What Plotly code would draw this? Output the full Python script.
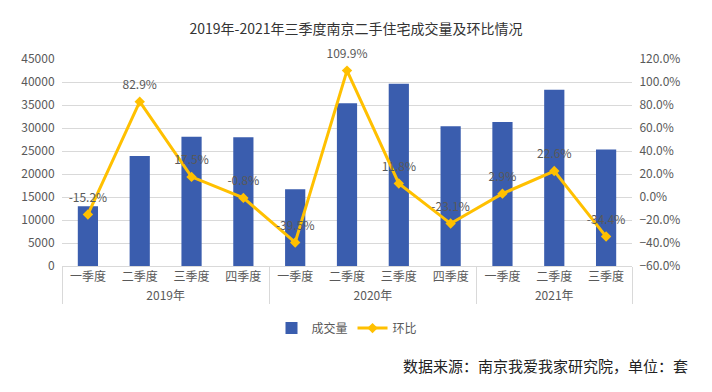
import plotly.graph_objects as go

years = ["2019年"] * 4 + ["2020年"] * 4 + ["2021年"] * 3
quarters = ["一季度", "二季度", "三季度", "四季度",
            "一季度", "二季度", "三季度", "四季度",
            "一季度", "二季度", "三季度"]
volume = [13000, 23900, 28100, 28000, 16700, 35400, 39600, 30400, 31300, 38300, 25300]
ratio = [-15.2, 82.9, 17.5, -0.8, -39.5, 109.9, 11.8, -23.1, 2.9, 22.6, -34.4]
ratio_labels = [f"{v:.1f}%" for v in ratio]

FONT = "Noto Sans CJK SC, Microsoft YaHei, sans-serif"
GRAY = "#595959"

fig = go.Figure()
fig.add_trace(go.Bar(
    x=[years, quarters], y=volume, name="成交量",
    marker=dict(color="#3A5DAE", line=dict(width=0)),
    width=0.39,
))
fig.add_trace(go.Scatter(
    x=[years, quarters], y=ratio, name="环比", yaxis="y2",
    mode="lines+markers",
    line=dict(color="#FFC000", width=3),
    marker=dict(symbol="diamond", size=8, color="#FFC000"),
    cliponaxis=False,
))
fig.add_trace(go.Scatter(
    x=[years, quarters], y=ratio, name="环比标签", yaxis="y2",
    mode="markers+text", showlegend=False, hoverinfo="skip",
    marker=dict(size=14, color="rgba(0,0,0,0)"),
    text=ratio_labels, textposition="top center",
    textfont=dict(size=12, color=GRAY, family=FONT),
    cliponaxis=False,
))

fig.update_layout(
    width=712, height=392,
    margin=dict(l=62, r=80, t=59, b=126, autoexpand=False),
    paper_bgcolor="white", plot_bgcolor="white",
    font=dict(family=FONT, color=GRAY, size=12),
    title=dict(text="2019年-2021年三季度南京二手住宅成交量及环比情况",
               x=0.5, xanchor="center", y=0.925, yanchor="middle",
               font=dict(size=14, color="#333333", family=FONT)),
    xaxis=dict(type="multicategory", range=[-0.5, len(volume) - 0.5],
               showgrid=False, showline=True, automargin=False,
               linecolor="#d9d9d9", linewidth=1, ticks="",
               showdividers=True, dividercolor="#d9d9d9", dividerwidth=1,
               tickfont=dict(size=12, color=GRAY)),
    yaxis=dict(range=[0, 45000], dtick=5000, showgrid=True, gridcolor="#d9d9d9",
               tickformat="d", automargin=False,
               zeroline=False, showline=False, tickfont=dict(size=12, color=GRAY),
               ticks="outside", ticklen=4, tickcolor="white"),
    yaxis2=dict(range=[-60, 120], dtick=20, overlaying="y", side="right", automargin=False,
                showgrid=False, zeroline=False, ticksuffix="%", tickformat=".1f",
                tickfont=dict(size=12, color=GRAY), ticks="outside", ticklen=4,
                tickcolor="white"),
    legend=dict(orientation="h", x=0.5, xanchor="center", y=-0.30, yanchor="middle",
                font=dict(size=12, color=GRAY), itemwidth=30, traceorder="normal"),
    showlegend=True,
)
fig.add_annotation(text="数据来源：南京我爱我家研究院，单位：套",
                   xref="paper", yref="paper", x=(690 - 62) / 570, y=-0.48,
                   xanchor="right", yanchor="middle", showarrow=False,
                   font=dict(size=15, color="#222222", family=FONT))

fig.write_html("out.html", config={"displayModeBar": False},
               post_script="document.body.style.margin='0px';document.body.style.overflow='hidden';")
